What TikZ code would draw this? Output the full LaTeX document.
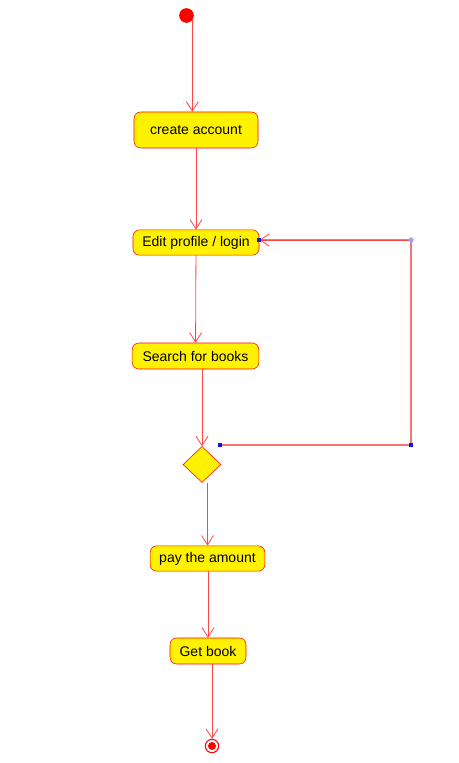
\documentclass[tikz,border=0pt]{standalone}
\usepackage{fontspec}
\setmainfont{Liberation Sans}
\usetikzlibrary{shapes.geometric,arrows.meta,positioning}
\definecolor{flowred}{RGB}{255,70,70}
\definecolor{loopred}{RGB}{240,120,120}
\definecolor{handle}{RGB}{20,20,230}
\tikzstyle{activity} = [rectangle, rounded corners=5pt, draw=red, fill=yellow,
text=black, font=\fontsize{10.5}{12}\selectfont, inner sep=0pt]
\tikzstyle{decision} = [diamond, draw=red, fill=yellow, minimum width=28.5pt,
minimum height=27pt, inner sep=0pt]
\tikzstyle{arrow} = [draw=flowred, line width=0.6pt,
-{Straight Barb[length=7pt,width=9pt,line width=0.6pt]}]
\tikzstyle{loopline} = [draw=loopred, line width=1.1pt]
\tikzstyle{grip} = [fill=handle, minimum size=3pt, inner sep=0pt]

\begin{document}
\begin{tikzpicture}[x=0.75pt,y=-0.75pt]
            \useasboundingbox (0,0) rectangle (458,763);
            % states
            \node[circle,fill=red,minimum size=11pt,inner sep=0pt] (start) at (186.5,15.5) {};
            \node[activity,minimum width=93pt,minimum height=27pt] (create) at (196,130) {create account};
            \node[activity,minimum width=94.5pt,minimum height=19pt] (edit) at (196,242.5) {Edit profile / login};
            \node[activity,minimum width=95pt,minimum height=19.5pt] (search) at (195.5,356) {Search for books};
            \node[decision] (choice) at (202,464.5) {};
            \node[activity,minimum width=86pt,minimum height=19pt] (pay) at (207.5,558.5) {pay the amount};
            \node[activity,minimum width=57pt,minimum height=19.5pt] (get) at (208,651) {Get book};
            \node[circle,draw=red,fill=white,line width=0.8pt,minimum size=10pt,inner sep=0pt] (stop) at (212,746) {};
            \node[circle,fill=red,minimum size=6pt,inner sep=0pt] at (stop) {};
            % flows
            \draw[arrow] (start.-40) -- (start.-40 |- create.north);
            \draw[arrow] (create) -- (edit);
            \draw[arrow] (edit) -- (search);
            \draw[arrow] (search.south -| choice) -- (choice);
            \draw[arrow] (pay.north |- choice.south) -- (pay);
            \draw[arrow] (pay.south -| get) -- (get);
            \draw[arrow] (get.south -| stop) -- (stop);
            % back loop
            \coordinate (back1) at (220,445);
            \coordinate (back2) at (411,445);
            \coordinate (back3) at (411,240);
            \draw[loopline] (back1) -- (back2) -- (back3) -- (edit.east |- back3);
            \draw[arrow] (back3) -- (edit.east |- back3);
            \node[grip] at (back1) {};
            \node[grip] at (back2) {};
            \node[grip] at (edit.east |- back3) {};
            \node[circle,fill=handle!40,minimum size=4pt,inner sep=0pt] at (back3) {};
        \end{tikzpicture}
\end{document}
